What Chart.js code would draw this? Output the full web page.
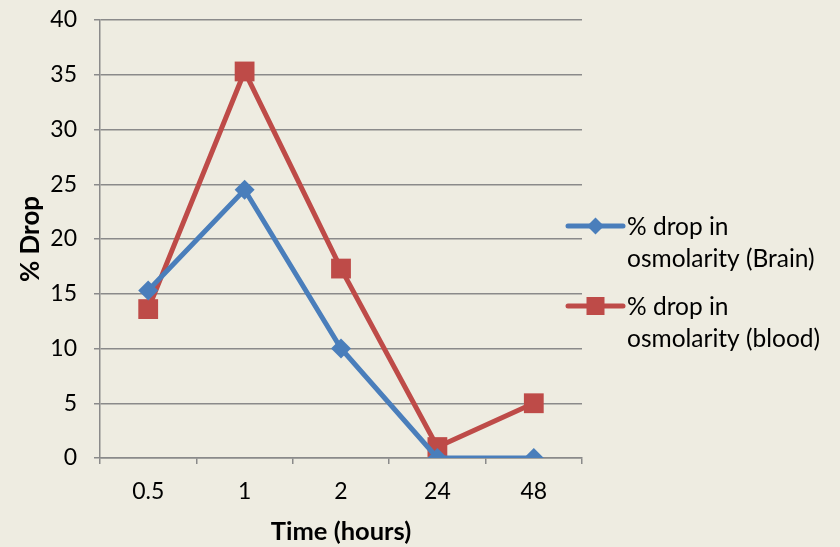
<!DOCTYPE html>
<html>
<head>
<meta charset="utf-8">
<script src="https://cdn.jsdelivr.net/npm/chart.js@4/dist/chart.umd.min.js"></script>
<style>
  html, body { margin: 0; padding: 0; background: #EEECE1; }
  #wrap { width: 840px; height: 547px; position: relative; }
</style>
</head>
<body>
<div id="wrap"><canvas id="c"></canvas></div>
<script>
// Time points (hours) and percentage drop in osmolarity
const timeLabels = ['0.5', '1', '2', '24', '48'];
const brainDrop = [15.3, 24.5, 10.0, 0, 0];
const bloodDrop = [13.6, 35.3, 17.3, 1.0, 5.0];
const seriesNames = [
  ['% drop in', 'osmolarity (Brain)'],
  ['% drop in', 'osmolarity (blood)']
];

const FONT = 'Lato, "Open Sans", sans-serif';
const GRID = '#8A8A8A';

// Legend drawn at the right, each entry as two lines of text
const sideLegend = {
  id: 'sideLegend',
  afterDraw(chart) {
    const ctx = chart.ctx;
    const x0 = 568, x1 = 623, tx = 627;
    const rows = [226, 306];
    chart.data.datasets.forEach((ds, i) => {
      const y = rows[i];
      const cx = (x0 + x1) / 2;
      ctx.save();
      ctx.strokeStyle = ds.borderColor;
      ctx.lineWidth = 5;
      ctx.lineCap = 'round';
      ctx.beginPath();
      ctx.moveTo(x0, y);
      ctx.lineTo(x1, y);
      ctx.stroke();
      ctx.fillStyle = ds.backgroundColor;
      ctx.beginPath();
      if (ds.pointStyle === 'rectRot') {
        const r = 8.5;
        ctx.moveTo(cx, y - r);
        ctx.lineTo(cx + r, y);
        ctx.lineTo(cx, y + r);
        ctx.lineTo(cx - r, y);
      } else {
        const s = 9;
        ctx.rect(cx - s, y - s, 2 * s, 2 * s);
      }
      ctx.closePath();
      ctx.fill();
      ctx.fillStyle = '#000';
      ctx.font = '24.5px ' + FONT;
      ctx.textBaseline = 'alphabetic';
      ctx.textAlign = 'left';
      seriesNames[i].forEach((t, k) => ctx.fillText(t, tx, y + 9 + k * 32));
      ctx.restore();
    });
  }
};

new Chart(document.getElementById('c'), {
  type: 'line',
  data: {
    labels: timeLabels,
    datasets: [
      {
        label: seriesNames[0].join(' '),
        data: brainDrop,
        borderColor: '#4A7EBB',
        backgroundColor: '#4A7EBB',
        borderWidth: 5,
        pointStyle: 'rectRot',
        pointRadius: 10,
        pointHoverRadius: 10,
        pointBorderWidth: 0,
        tension: 0
      },
      {
        label: seriesNames[1].join(' '),
        data: bloodDrop,
        borderColor: '#BE4B48',
        backgroundColor: '#BE4B48',
        borderWidth: 5,
        pointStyle: 'rect',
        pointRadius: 14,
        pointHoverRadius: 14,
        pointBorderWidth: 0,
        tension: 0
      }
    ]
  },
  options: {
    responsive: true,
    maintainAspectRatio: false,
    animation: false,
    events: [],
    layout: { padding: { top: 0, right: 258, left: 0, bottom: 0 } },
    plugins: {
      legend: { display: false },
      tooltip: { enabled: false }
    },
    scales: {
      x: {
        offset: true,
        grid: {
          offset: true,
          drawOnChartArea: false,
          drawTicks: true,
          tickLength: 6,
          color: GRID,
          lineWidth: 1.5
        },
        border: { color: GRID, width: 1.5 },
        ticks: { color: '#000', font: { family: FONT, size: 23 }, padding: 14 },
        title: {
          display: true,
          text: 'Time (hours)',
          color: '#000',
          font: { family: FONT, size: 25.5, weight: 'bold' },
          padding: { top: 0, bottom: 0 }
        },
        afterFit(scale) { scale.height = 89; }
      },
      y: {
        min: 0,
        max: 40,
        ticks: { stepSize: 5, color: '#000', font: { family: FONT, size: 23 }, padding: 17 },
        grid: {
          color: GRID,
          lineWidth: 1.5,
          drawTicks: true,
          tickLength: 6
        },
        border: { color: GRID, width: 1.5 },
        title: {
          display: true,
          text: '% Drop',
          color: '#000',
          font: { family: FONT, size: 26, weight: 'bold' },
          padding: { top: 15, bottom: 0 }
        },
        afterFit(scale) {
          scale.width = 100;
          scale.paddingTop = 20;
          scale.paddingBottom = 0;
        }
      }
    }
  },
  plugins: [sideLegend]
});
</script>
</body>
</html>
